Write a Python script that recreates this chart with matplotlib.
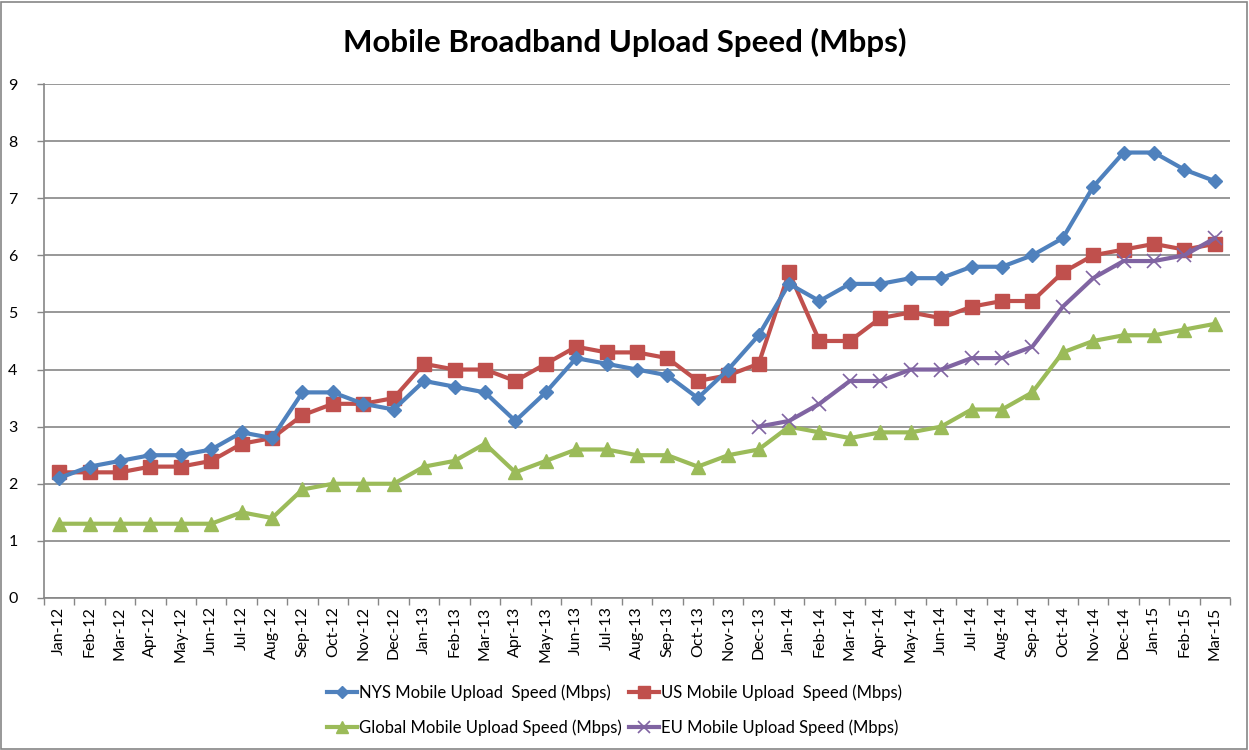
import matplotlib
matplotlib.use("Agg")
import matplotlib.pyplot as plt
import numpy as np
from matplotlib.patches import Rectangle

months = ["Jan-12","Feb-12","Mar-12","Apr-12","May-12","Jun-12","Jul-12","Aug-12","Sep-12","Oct-12","Nov-12","Dec-12",
          "Jan-13","Feb-13","Mar-13","Apr-13","May-13","Jun-13","Jul-13","Aug-13","Sep-13","Oct-13","Nov-13","Dec-13",
          "Jan-14","Feb-14","Mar-14","Apr-14","May-14","Jun-14","Jul-14","Aug-14","Sep-14","Oct-14","Nov-14","Dec-14",
          "Jan-15","Feb-15","Mar-15"]

nys = [2.1, 2.3, 2.4, 2.5, 2.5, 2.6, 2.9, 2.8, 3.6, 3.6, 3.4, 3.3,
       3.8, 3.7, 3.6, 3.1, 3.6, 4.2, 4.1, 4.0, 3.9, 3.5, 4.0, 4.6,
       5.5, 5.2, 5.5, 5.5, 5.6, 5.6, 5.8, 5.8, 6.0, 6.3, 7.2, 7.8,
       7.8, 7.5, 7.3]
us = [2.2, 2.2, 2.2, 2.3, 2.3, 2.4, 2.7, 2.8, 3.2, 3.4, 3.4, 3.5,
      4.1, 4.0, 4.0, 3.8, 4.1, 4.4, 4.3, 4.3, 4.2, 3.8, 3.9, 4.1,
      5.7, 4.5, 4.5, 4.9, 5.0, 4.9, 5.1, 5.2, 5.2, 5.7, 6.0, 6.1,
      6.2, 6.1, 6.2]
glob = [1.3, 1.3, 1.3, 1.3, 1.3, 1.3, 1.5, 1.4, 1.9, 2.0, 2.0, 2.0,
        2.3, 2.4, 2.7, 2.2, 2.4, 2.6, 2.6, 2.5, 2.5, 2.3, 2.5, 2.6,
        3.0, 2.9, 2.8, 2.9, 2.9, 3.0, 3.3, 3.3, 3.6, 4.3, 4.5, 4.6,
        4.6, 4.7, 4.8]
eu_start = "Dec-13"
eu = [3.0, 3.1, 3.4, 3.8, 3.8, 4.0, 4.0, 4.2, 4.2, 4.4, 5.1, 5.6, 5.9, 5.9, 6.0, 6.3]

series_labels = ["NYS Mobile Upload  Speed (Mbps)", "US Mobile Upload  Speed (Mbps)",
                 "Global Mobile Upload Speed (Mbps)", "EU Mobile Upload Speed (Mbps)"]
title = "Mobile Broadband Upload Speed (Mbps)"
yticks = list(range(0, 10))

plt.rcParams['font.family'] = ['Lato', 'DejaVu Sans']

fig = plt.figure(figsize=(12.49, 7.5), dpi=100)
fig.patches.append(Rectangle((0.001, 0.001), 0.997, 0.997, transform=fig.transFigure,
                             fill=False, edgecolor='#868686', linewidth=1.2))
ax = fig.add_axes([0.0352, 0.2027, 0.9496, 0.6853])

x = np.arange(len(months))
i0 = months.index(eu_start)
x_eu = x[i0:i0 + len(eu)]

lw = 3.0
h1, = ax.plot(x, nys, color='#4F81BD', lw=lw, marker='D', ms=7.5, label=series_labels[0], zorder=4)
h2, = ax.plot(x, us, color='#C0504D', lw=lw, marker='s', ms=10.5, label=series_labels[1], zorder=3)
h3, = ax.plot(x, glob, color='#9BBB59', lw=lw, marker='^', ms=10.5, label=series_labels[2], zorder=3)
h4, = ax.plot(x_eu, eu, color='#8064A2', lw=lw, marker='x', ms=10, mew=1.2, label=series_labels[3], zorder=3)

ax.set_xlim(-0.5, len(months) - 0.5)
ax.set_ylim(0, 9)
ax.set_yticks(yticks)
ax.set_yticklabels([str(v) for v in yticks], fontsize=11.5)
ax.set_xticks(x)
ax.set_xticklabels(months, rotation=90, fontsize=11.5)
ax.set_xticks(np.arange(-0.5, len(months)), minor=True)
ax.tick_params(axis='x', which='major', length=0, pad=6)
ax.tick_params(axis='x', which='minor', length=5, color='#868686', width=1)
ax.tick_params(axis='y', length=5, color='#868686', width=1, pad=14)
ax.yaxis.grid(True, color='#868686', lw=1.2)
ax.set_axisbelow(True)
for s in ['top', 'right']:
    ax.spines[s].set_visible(False)
for s in ['left', 'bottom']:
    ax.spines[s].set_color('#868686')
    ax.spines[s].set_linewidth(1.2)

fig.text(0.5, 0.944, title, ha='center', va='center', fontsize=22.5, fontweight='bold')

fig.legend([h1, h3, h2, h4], [series_labels[0], series_labels[2], series_labels[1], series_labels[3]],
           loc='center', bbox_to_anchor=(0.492, 0.0527), ncol=2, frameon=False, fontsize=12,
           handlelength=1.8, columnspacing=0.4, labelspacing=1.1, handletextpad=0.15,
           markerscale=0.85)

fig.savefig("out.png", dpi=100)
